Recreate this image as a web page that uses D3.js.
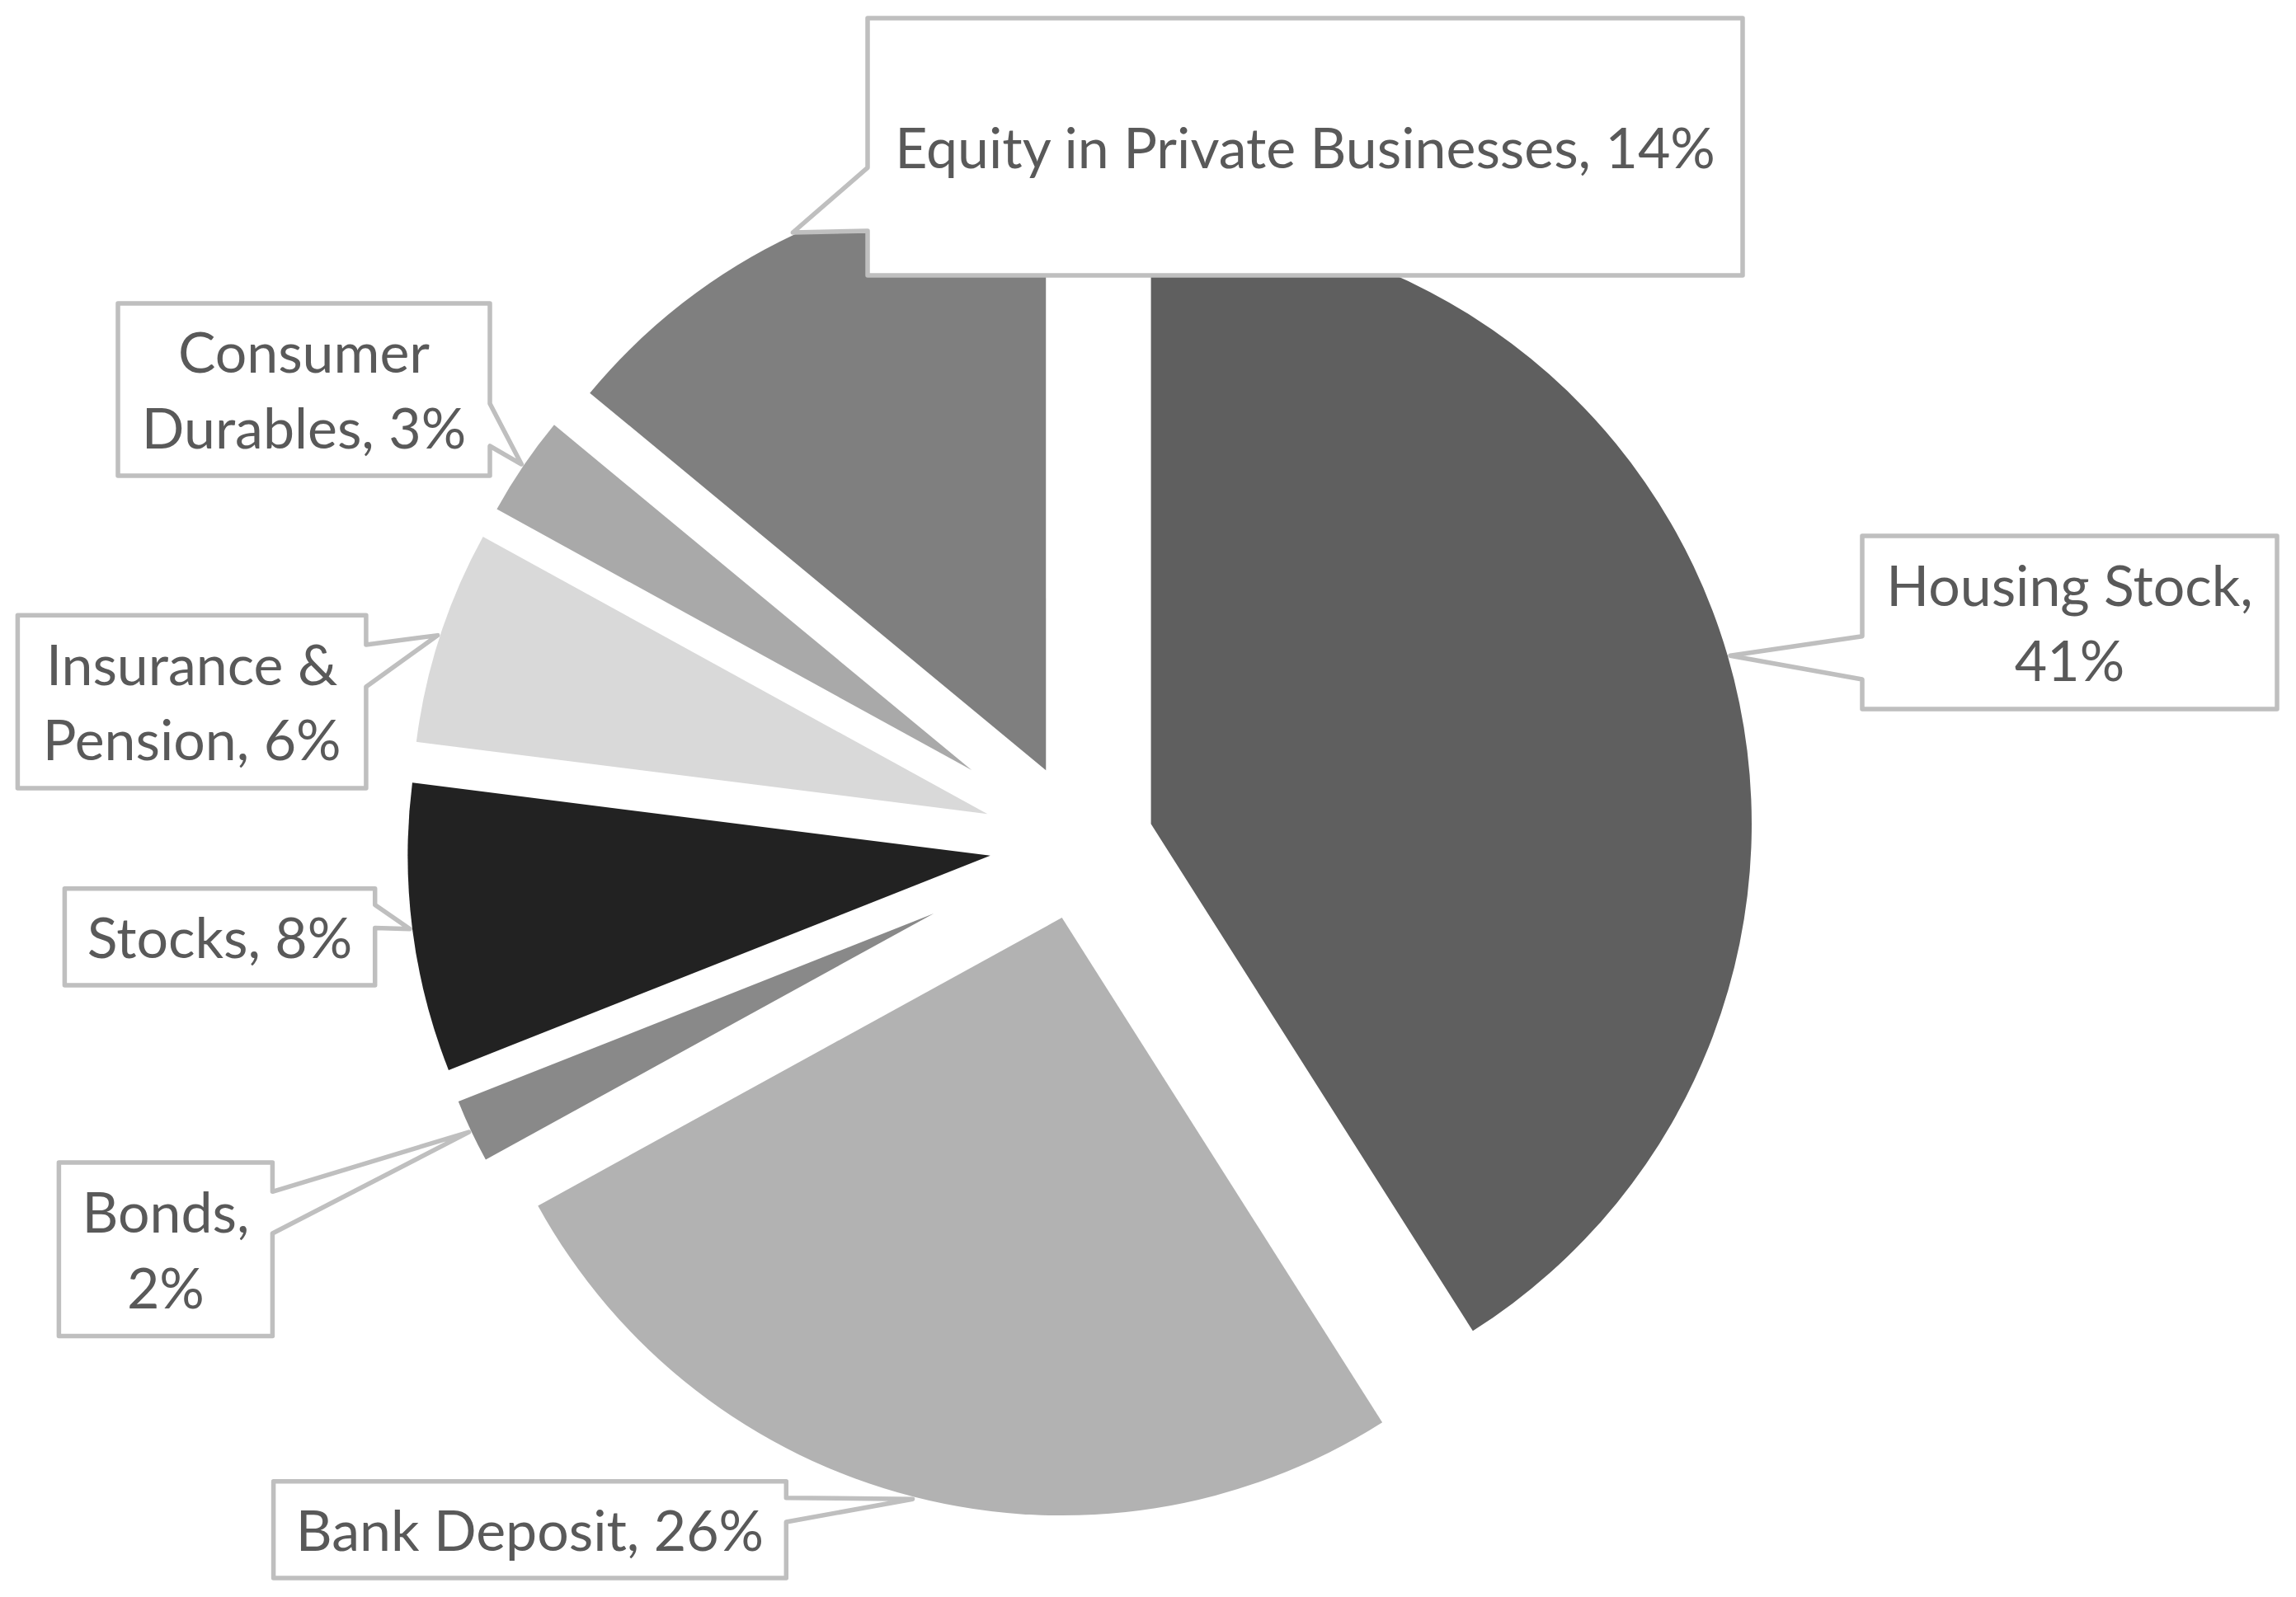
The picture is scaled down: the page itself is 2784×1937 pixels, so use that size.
<!DOCTYPE html>
<html>
<head>
<meta charset="utf-8">
<script src="https://cdn.jsdelivr.net/npm/d3@7"></script>
<style>
  html, body { margin: 0; padding: 0; background: #ffffff; }
  svg { display: block; }
</style>
</head>
<body>
<script>
// ---- data ----
const categories = ["Housing Stock", "Bank Deposit", "Bonds", "Stocks",
                    "Insurance & Pension", "Consumer Durables", "Equity in Private Businesses"];
const values = [41, 26, 2, 8, 6, 3, 14];          // percent of total wealth
const lineBreakAfterWords = [2, 0, 1, 0, 2, 1, 0]; // 0 = single line

// ---- style / layout ----
const sliceColors = ["#5f5f5f", "#b2b2b2", "#898989", "#222222", "#d9d9d9", "#a9a9a9", "#7f7f7f"];
const explodeBy   = [88.6, 92, 197, 110.6, 119, 160, 99.3];
// callout boxes: [x, y, w, h, side, baseY1, baseY2]
const boxes = [
  [2258, 650, 503, 210, "left", 771.7, 824],
  [331.6, 1796.7, 621.7, 117.3, "right", 1816.7, 1846],
  [71.4, 1410, 259, 210.5, "right", 1445.3, 1496],
  [78.4, 1077.7, 376.3, 117.2, "right", 1097.4, 1125.5],
  [21.4, 746.3, 422.5, 209.7, "right", 782, 833],
  [143, 368, 451, 209, "right", 489.6, 541],
  [1052, 22, 1061, 312, "left", 203.3, 280]
];

const W = 2784, H = 1937;
const cx = 1310.5, cy = 1024, R = 817;
const fontSize = 68, lineH = 91.5;

const svg = d3.select("body").append("svg").attr("width", W).attr("height", H);
svg.append("rect").attr("width", W).attr("height", H).attr("fill", "#fff");

const data = categories.map((c, i) => ({ name: c, value: values[i], idx: i }));
const pie = d3.pie().sort(null).value(d => d.value).startAngle(0).endAngle(2 * Math.PI);
const arcsData = pie(data);

const gPie = svg.append("g");
const tips = [];
arcsData.forEach((a, i) => {
  const mid = (a.startAngle + a.endAngle) / 2;
  const d = explodeBy[i];
  const r = R - d;
  const ox = cx + d * Math.sin(mid), oy = cy - d * Math.cos(mid);
  const arcGen = d3.arc().innerRadius(0).outerRadius(r);
  gPie.append("path")
    .attr("transform", `translate(${ox},${oy})`)
    .attr("d", arcGen(a))
    .attr("fill", sliceColors[i]);
  tips.push([ox + (r + 3) * Math.sin(mid), oy - (r + 3) * Math.cos(mid)]);
});

const gLab = svg.append("g");
arcsData.forEach((a, i) => {
  const [x, y, w, h, side, b1, b2] = boxes[i];
  const [tx, ty] = tips[i];
  let p;
  if (side === "left") {
    p = `M${x},${y} H${x + w} V${y + h} H${x} V${b2} L${tx},${ty} L${x},${b1} Z`;
  } else {
    p = `M${x},${y} H${x + w} V${b1} L${tx},${ty} L${x + w},${b2} V${y + h} H${x} Z`;
  }
  gLab.append("path").attr("d", p)
    .attr("fill", "#ffffff").attr("stroke", "#bfbfbf")
    .attr("stroke-width", 5.5).attr("stroke-linejoin", "round");

  const full = `${a.data.name}, ${a.data.value}%`;
  const words = full.split(" ");
  const k = lineBreakAfterWords[i];
  const lines = k > 0 ? [words.slice(0, k).join(" "), words.slice(k).join(" ")] : [full];
  const midY = y + h / 2 + 25.5;
  const txt = gLab.append("text")
    .attr("text-anchor", "middle")
    .attr("font-family", "Lato, 'Open Sans', sans-serif")
    .attr("font-size", fontSize)
    .attr("fill", "#595959");
  lines.forEach((ln, j) => {
    txt.append("tspan")
      .attr("x", x + w / 2)
      .attr("y", midY + (j - (lines.length - 1) / 2) * lineH)
      .text(ln);
  });
});
</script>
</body>
</html>
